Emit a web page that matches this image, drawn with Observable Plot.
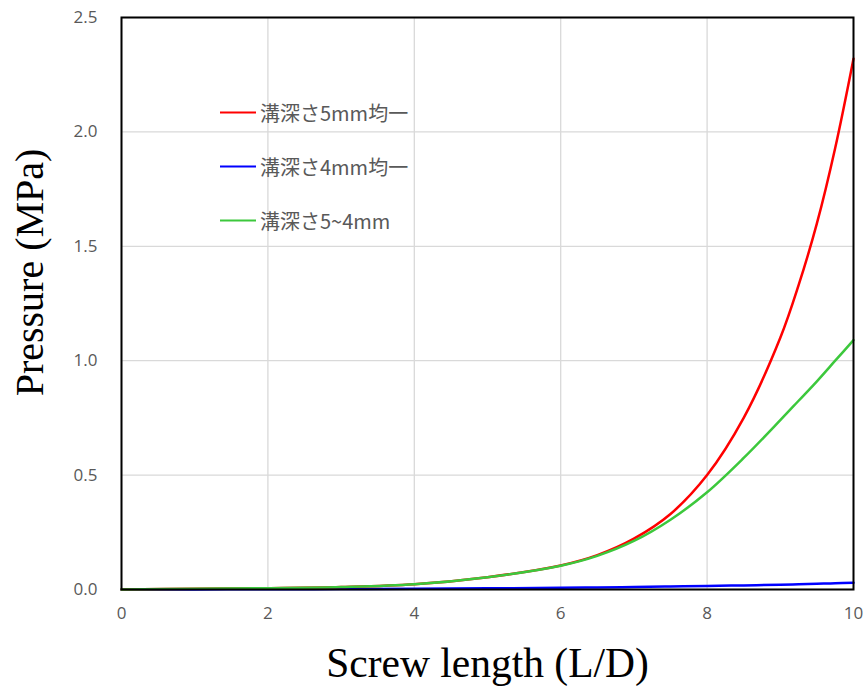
<!DOCTYPE html>
<html>
<head>
<meta charset="utf-8">
<script src="https://cdn.jsdelivr.net/npm/d3@7"></script>
<script src="https://cdn.jsdelivr.net/npm/@observablehq/plot@0.6"></script>
<style>
  body { margin: 0; background: #fff; }
  #wrap { position: relative; width: 867px; height: 689px; }
  #legend { position: absolute; left: 220px; top: 0; font-family: "Noto Sans CJK JP", "Noto Sans", sans-serif; font-size: 20px; color: #595959; }
  .item { position: absolute; left: 0; display: flex; align-items: center; white-space: nowrap; transform: translateY(-50%); }
  .swatch { width: 36px; height: 0; border-top: 2.5px solid; margin-right: 4px; }
</style>
</head>
<body>
<div id="wrap"><div id="legend"></div></div>
<script>
// Data
const screwLength = [0, 1, 2, 3, 4, 5, 6, 6.5, 7, 7.5, 8, 8.5, 9, 9.25, 9.5, 9.75, 10];
const depth5mm    = [0, 0.003, 0.006, 0.011, 0.023, 0.054, 0.105, 0.15, 0.222, 0.33, 0.50, 0.75, 1.10, 1.33, 1.60, 1.93, 2.32];
const depth4mm    = [0, 0.0005, 0.001, 0.002, 0.003, 0.005, 0.008, 0.009, 0.011, 0.013, 0.015, 0.018, 0.021, 0.023, 0.025, 0.027, 0.03];
const depth5to4mm = [0, 0.003, 0.006, 0.011, 0.023, 0.054, 0.104, 0.147, 0.212, 0.305, 0.425, 0.575, 0.74, 0.825, 0.91, 1.0, 1.09];
const seriesNames = ["溝深さ5mm均一", "溝深さ4mm均一", "溝深さ5~4mm"];
const seriesColors = ["#ff0000", "#0000ff", "#3cc83c"];
const xTicks = [0, 2, 4, 6, 8, 10];
const yTicks = [0, 0.5, 1.0, 1.5, 2.0, 2.5];

const seriesValues = [depth5mm, depth4mm, depth5to4mm];
const rows = seriesValues.map(vals => screwLength.map((x, i) => ({x, y: vals[i]})));

const tickFont = {fontSize: 17, fontFamily: "Open Sans", fill: "#595959"};

const chart = Plot.plot({
  width: 867,
  height: 689,
  marginLeft: 121,
  marginRight: 14,
  marginTop: 17,
  marginBottom: 100,
  style: {fontFamily: "Open Sans", background: "white"},
  x: {domain: [0, 10]},
  y: {domain: [0, 2.5]},
  marks: [
    Plot.gridX(xTicks, {stroke: "#d9d9d9", strokeOpacity: 1, strokeWidth: 1.3}),
    Plot.gridY(yTicks, {stroke: "#d9d9d9", strokeOpacity: 1, strokeWidth: 1.3}),
    Plot.axisX(xTicks, {tickSize: 0, tickPadding: 17, label: null, tickFormat: d3.format("d"), ...tickFont}),
    Plot.axisY(yTicks, {tickSize: 0, tickPadding: 24, label: null, tickFormat: d3.format(".1f"), ...tickFont}),
    Plot.line(rows[1], {x: "x", y: "y", stroke: seriesColors[1], strokeWidth: 2.5, curve: "catmull-rom"}),
    Plot.line(rows[0], {x: "x", y: "y", stroke: seriesColors[0], strokeWidth: 2.5, curve: "catmull-rom"}),
    Plot.line(rows[2], {x: "x", y: "y", stroke: seriesColors[2], strokeWidth: 2.5, curve: "catmull-rom"}),
    Plot.frame({stroke: "black", strokeWidth: 2}),
    Plot.text(["Screw length (L/D)"], {frameAnchor: "bottom", dy: 87, fontSize: 41.5, fontFamily: "Liberation Serif", fill: "black"}),
    Plot.text(["Pressure (MPa)"], {frameAnchor: "left", textAnchor: "middle", dx: -91, dy: -31, rotate: -90, fontSize: 40, fontFamily: "Liberation Serif", fill: "black"})
  ]
});
document.getElementById("wrap").prepend(chart);

const legendTops = [112, 166, 220];
const legend = document.getElementById("legend");
seriesNames.forEach((name, i) => {
  const item = document.createElement("div");
  item.className = "item";
  item.style.top = legendTops[i] + "px";
  const sw = document.createElement("span");
  sw.className = "swatch";
  sw.style.borderTopColor = seriesColors[i];
  const label = document.createElement("span");
  label.textContent = name;
  item.append(sw, label);
  legend.append(item);
});
</script>
</body>
</html>
